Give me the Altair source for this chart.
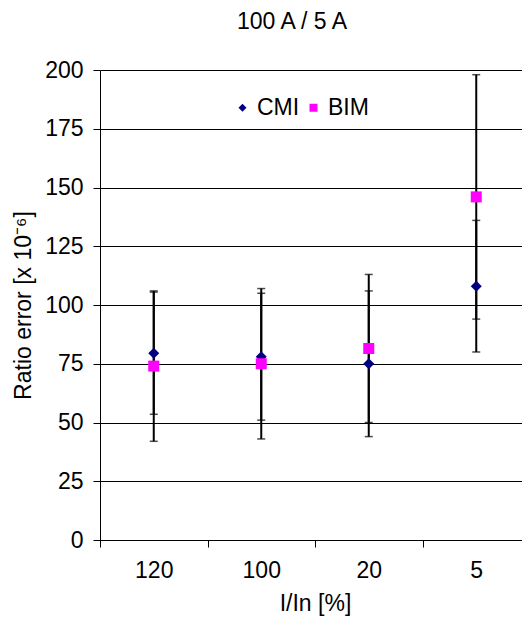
import altair as alt
import pandas as pd

categories = ["120", "100", "20", "5"]
series = ["CMI", "BIM"]
cmi_values = [79.5, 78, 75, 108]
cmi_err = [26, 27, 31, 28]
bim_values = [74, 75, 81.5, 146]
bim_err = [32, 32, 31.5, 52]
colors = ["#000080", "#FF00FF"]
shapes = ["diamond", "square"]

rows = []
for s, vals, errs in [("CMI", cmi_values, cmi_err), ("BIM", bim_values, bim_err)]:
    for c, v, e in zip(categories, vals, errs):
        rows.append({"series": s, "cat": c, "value": v, "lo": v - e, "hi": v + e})
df = pd.DataFrame(rows)

FONT = "Liberation Sans"
FS = 23

xenc = alt.X(
    "cat:N",
    sort=categories,
    scale=alt.Scale(type="band", domain=categories, range=[0, 430], paddingInner=0, paddingOuter=0),
    axis=alt.Axis(
        title="I/In [%]",
        labelAngle=0,
        tickBand="extent",
        tickSize=7,
        tickColor="black",
        domainColor="black",
        labelPadding=12,
        labelFontSize=FS,
        labelFont=FONT,
        labelColor="black",
        titleFontSize=FS,
        titleFont=FONT,
        titleFontWeight="normal",
        titleColor="black",
        titlePadding=10,
        grid=False,
    ),
)

yscale = alt.Scale(domain=[0, 200], nice=False)
yaxis = alt.Axis(
    title="Ratio error [x 10⁻⁶]",
    values=list(range(0, 201, 25)),
    grid=True,
    gridColor="black",
    gridWidth=1,
    tickSize=7,
    tickColor="black",
    domainColor="black",
    labelPadding=10,
    labelFontSize=FS,
    labelFont=FONT,
    labelColor="black",
    titleFontSize=FS,
    titleFont=FONT,
    titleFontWeight="normal",
    titleColor="black",
    titlePadding=9,
)

legend = alt.Legend(
    orient="none",
    legendX=131,
    legendY=26,
    direction="horizontal",
    title=None,
    labelFontSize=FS,
    labelFont=FONT,
    labelColor="black",
    symbolSize=64,
    symbolStrokeWidth=0,
    labelOffset=3,
    columnPadding=2,
)

base = alt.Chart(df)

bars = base.mark_rule(color="black", strokeWidth=2).encode(
    x=xenc,
    y=alt.Y("lo:Q", scale=yscale, axis=yaxis),
    y2="hi:Q",
)
caps_hi = base.mark_tick(color="black", size=8, thickness=1.5).encode(
    x=xenc, y=alt.Y("hi:Q", scale=yscale)
)
caps_lo = base.mark_tick(color="black", size=8, thickness=1.5).encode(
    x=xenc, y=alt.Y("lo:Q", scale=yscale)
)
points = base.mark_point(filled=True, opacity=1, size=121, strokeWidth=0).encode(
    x=xenc,
    y=alt.Y("value:Q", scale=yscale),
    color=alt.Color("series:N", scale=alt.Scale(domain=series, range=colors), legend=legend),
    shape=alt.Shape("series:N", scale=alt.Scale(domain=series, range=shapes), legend=legend),
)

chart = (
    alt.layer(bars, caps_hi, caps_lo, points)
    .properties(
        width=422,
        height=470,
        title=alt.TitleParams(
            "100 A / 5 A",
            fontSize=FS,
            font=FONT,
            fontWeight="normal",
            color="black",
            anchor="middle",
            dx=-19,
            offset=25,
        ),
        autosize=alt.AutoSizeParams(type="none"),
        padding={"left": 92, "top": 62, "right": 0, "bottom": 76},
    )
    .configure_view(stroke=None)
    .configure(background="white")
)

chart.save("out.html", embed_options={"renderer": "svg", "actions": False})
